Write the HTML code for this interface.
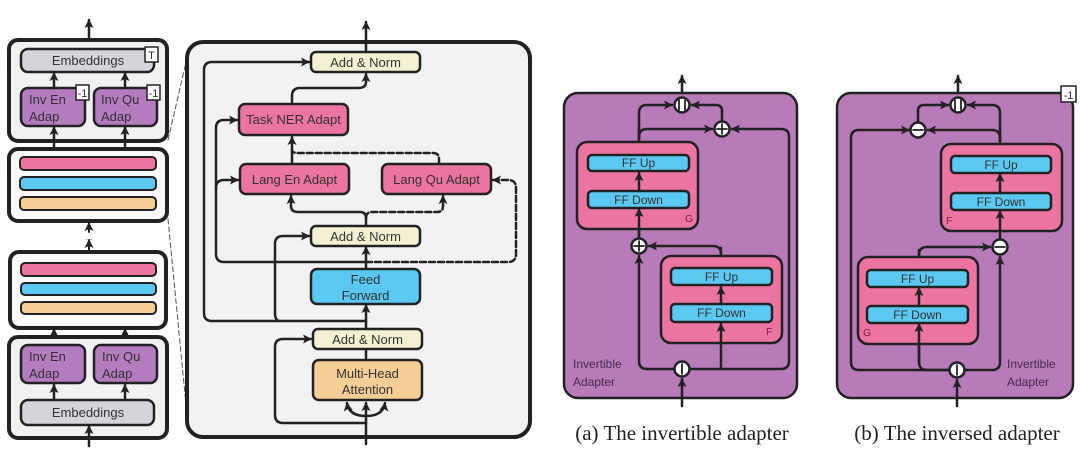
<!DOCTYPE html>
<html><head><meta charset="utf-8"><style>
html,body{margin:0;padding:0;background:#fff;}
svg{display:block;}
text{font-family:"Liberation Sans",sans-serif;fill:#333;}
</style></head><body>
<svg width="1080" height="475" viewBox="0 0 1080 475" xmlns="http://www.w3.org/2000/svg">
<defs>
<marker id="a" markerUnits="userSpaceOnUse" markerWidth="9" markerHeight="9" refX="8" refY="4.5" orient="auto"><path d="M0,0 L9,4.5 L0,9 L2,4.5 z" fill="#222"/></marker>
</defs>
<g stroke="#222" stroke-linejoin="round" stroke-linecap="round">
<!-- LEFT COLUMN -->
<line x1="89" y1="42" x2="89" y2="20" stroke-width="2.5" marker-end="url(#a)"/>
<rect x="9" y="40" width="158" height="101" rx="9" fill="#f0f1f3" stroke-width="4"/>
<rect x="21" y="49" width="133" height="23" rx="7" fill="#d3d5db" stroke-width="2.5"/>
<rect x="145" y="47" width="13" height="15" fill="#fff" stroke-width="1.5"/>
<rect x="21" y="88" width="64" height="38" rx="7" fill="#b47bbf" stroke-width="2.5"/>
<rect x="94" y="88" width="63" height="38" rx="7" fill="#b47bbf" stroke-width="2.5"/>
<rect x="76" y="85" width="13" height="15" fill="#fff" stroke-width="1.5"/>
<rect x="147" y="85" width="13" height="15" fill="#fff" stroke-width="1.5"/>
<line x1="54" y1="88" x2="54" y2="73" stroke-width="2.5" marker-end="url(#a)"/>
<line x1="125" y1="88" x2="125" y2="73" stroke-width="2.5" marker-end="url(#a)"/>
<line x1="54" y1="150" x2="54" y2="127" stroke-width="2.5" marker-end="url(#a)"/>
<line x1="125" y1="150" x2="125" y2="127" stroke-width="2.5" marker-end="url(#a)"/>

<rect x="9" y="149" width="158" height="72" rx="9" fill="#fafafa" stroke-width="4"/>
<rect x="20" y="157" width="136" height="13" rx="4" fill="#ec74a0" stroke-width="2"/>
<rect x="20" y="177" width="136" height="13" rx="4" fill="#5ac8f0" stroke-width="2"/>
<rect x="20" y="197" width="136" height="13" rx="4" fill="#f5cd96" stroke-width="2"/>
<line x1="89" y1="232" x2="89" y2="223" stroke-width="2" marker-end="url(#a)"/>
<text x="89" y="240" font-size="8" text-anchor="middle" stroke="none">...</text>
<line x1="89" y1="252" x2="89" y2="240" stroke-width="2" marker-end="url(#a)"/>

<rect x="10" y="252" width="156" height="76" rx="9" fill="#fafafa" stroke-width="4"/>
<rect x="21" y="263" width="135" height="13" rx="4" fill="#ec74a0" stroke-width="2"/>
<rect x="21" y="283" width="135" height="12" rx="4" fill="#5ac8f0" stroke-width="2"/>
<rect x="21" y="302" width="135" height="12" rx="4" fill="#f5cd96" stroke-width="2"/>
<line x1="54" y1="345" x2="54" y2="329" stroke-width="2.5" marker-end="url(#a)"/>
<line x1="125" y1="345" x2="125" y2="329" stroke-width="2.5" marker-end="url(#a)"/>

<rect x="9" y="337" width="158" height="101" rx="9" fill="#f0f1f3" stroke-width="4"/>
<rect x="21" y="345" width="64" height="38" rx="7" fill="#b47bbf" stroke-width="2.5"/>
<rect x="94" y="345" width="63" height="38" rx="7" fill="#b47bbf" stroke-width="2.5"/>
<rect x="21" y="400" width="133" height="25" rx="7" fill="#d3d5db" stroke-width="2.5"/>
<line x1="54" y1="400" x2="54" y2="385" stroke-width="2.5" marker-end="url(#a)"/>
<line x1="125" y1="400" x2="125" y2="385" stroke-width="2.5" marker-end="url(#a)"/>
<line x1="89" y1="446" x2="89" y2="426" stroke-width="2.5" marker-end="url(#a)"/>

<line x1="168" y1="140" x2="187" y2="58" stroke-width="1" stroke-dasharray="5,3" stroke="#555"/>
<line x1="168" y1="219" x2="187" y2="415" stroke-width="1" stroke-dasharray="5,3" stroke="#555"/>

<!-- BIG BOX -->
<rect x="187" y="42" width="343" height="395" rx="16" fill="#f1f2f4" stroke-width="4"/>
<line x1="366" y1="52" x2="366" y2="22" stroke-width="2.5" marker-end="url(#a)"/>
<line x1="366" y1="444" x2="366" y2="403" stroke-width="2.5" marker-end="url(#a)"/>
<path d="M366,416 Q349,416 347,403" fill="none" stroke-width="2.5" marker-end="url(#a)"/>
<path d="M366,416 Q383,416 385,403" fill="none" stroke-width="2.5" marker-end="url(#a)"/>
<line x1="366" y1="360" x2="366" y2="349" stroke-width="2.5"/>
<line x1="366" y1="329" x2="366" y2="305" stroke-width="2.5" marker-end="url(#a)"/>
<line x1="366" y1="269" x2="366" y2="247" stroke-width="2.5" marker-end="url(#a)"/>
<path d="M366,423 L283,423 Q275,423 275,415 L275,347 Q275,339 283,339 L311,339" fill="none" stroke-width="2.5" marker-end="url(#a)"/>
<path d="M366,321 L212,321 Q204,321 204,313 L204,70 Q204,62 212,62 L309,62" fill="none" stroke-width="2.5" marker-end="url(#a)"/>
<path d="M280,321 Q275,321 275,313 L275,244 Q275,236 283,236 L309,236" fill="none" stroke-width="2.5" marker-end="url(#a)"/>
<path d="M366,262 L224,262 Q216,262 216,254 L216,128 Q216,120 224,120 L237,120" fill="none" stroke-width="2.5" marker-end="url(#a)"/>
<path d="M216,188 Q216,180 224,180 L238,180" fill="none" stroke-width="2.5" marker-end="url(#a)"/>
<path d="M366,226 L366,218 Q366,212 360,212 L298,212 Q291,212 291,206 L291,196" fill="none" stroke-width="2.5" marker-end="url(#a)"/>
<path d="M366,218 Q366,212 372,212 L437,212 Q443,212 443,206 L443,196" fill="none" stroke-width="2.5" stroke-dasharray="6,3" marker-end="url(#a)"/>
<path d="M366,262 L508,262 Q516,262 516,254 L516,188 Q516,180 508,180 L493,180" fill="none" stroke-width="2.5" stroke-dasharray="6,3" marker-end="url(#a)"/>
<path d="M439,164 L439,159 Q439,153 433,153 L298,153 Q292,153 292,150" fill="none" stroke-width="2.5" stroke-dasharray="6,3"/>
<line x1="292" y1="164" x2="292" y2="137" stroke-width="2.5" marker-end="url(#a)"/>
<path d="M292,104 L292,96 Q292,88 300,88 L358,88 Q366,88 366,82 L366,74" fill="none" stroke-width="2.5" marker-end="url(#a)"/>

<rect x="311" y="52" width="109" height="20" rx="5" fill="#f3f1d2" stroke-width="2.5"/>
<rect x="239" y="104" width="109" height="31" rx="6" fill="#ec74a0" stroke-width="2.5"/>
<rect x="240" y="164" width="109" height="30" rx="6" fill="#ec74a0" stroke-width="2.5"/>
<rect x="382" y="164" width="109" height="30" rx="6" fill="#ec74a0" stroke-width="2.5"/>
<rect x="311" y="226" width="109" height="20" rx="5" fill="#f3f1d2" stroke-width="2.5"/>
<rect x="311" y="269" width="109" height="35" rx="6" fill="#5ac8f0" stroke-width="2.5"/>
<rect x="313" y="329" width="109" height="20" rx="5" fill="#f3f1d2" stroke-width="2.5"/>
<rect x="313" y="360" width="109" height="40" rx="6" fill="#f5cd96" stroke-width="2.5"/>

<!-- PANEL A -->
<line x1="682" y1="97" x2="682" y2="76" stroke-width="2.5" marker-end="url(#a)"/>
<rect x="564" y="93" width="233" height="305" rx="14" fill="#b67bb8" stroke-width="2.5"/>
<line x1="682" y1="406" x2="682" y2="379" stroke-width="2.5" marker-end="url(#a)"/>
<path d="M674,369 L647,369 Q639,369 639,361 L639,256" fill="none" stroke-width="2.5" marker-end="url(#a)"/>
<path d="M690,369 L781,369 Q789,369 789,361 L789,137 Q789,129 781,129 L732,129" fill="none" stroke-width="2.5" marker-end="url(#a)"/>
<path d="M721,268 L721,254 Q721,246 713,246 L649,246" fill="none" stroke-width="2.5" marker-end="url(#a)"/>
<line x1="639" y1="238" x2="639" y2="209" stroke-width="2.5" marker-end="url(#a)"/>
<path d="M639,155 L639,113 Q639,105 647,105 L672,105" fill="none" stroke-width="2.5" marker-end="url(#a)"/>
<path d="M639,137 Q639,129 647,129 L712,129" fill="none" stroke-width="2.5" marker-end="url(#a)"/>
<path d="M722,121 L722,111 Q722,105 716,105 L692,105" fill="none" stroke-width="2.5" marker-end="url(#a)"/>
<rect x="577" y="142" width="121" height="87" rx="10" fill="#ec74a0" stroke-width="2.5"/>
<rect x="588" y="155" width="101" height="16" rx="4" fill="#5ac8f0" stroke-width="2.5"/>
<rect x="588" y="191" width="101" height="17" rx="4" fill="#5ac8f0" stroke-width="2.5"/>
<line x1="639" y1="191" x2="639" y2="173" stroke-width="2.5" marker-end="url(#a)"/>
<line x1="639" y1="238" x2="639" y2="209" stroke-width="2.5" marker-end="url(#a)"/>
<rect x="661" y="256" width="121" height="87" rx="10" fill="#ec74a0" stroke-width="2.5"/>
<rect x="671" y="268" width="101" height="17" rx="4" fill="#5ac8f0" stroke-width="2.5"/>
<rect x="671" y="304" width="101" height="18" rx="4" fill="#5ac8f0" stroke-width="2.5"/>
<line x1="721" y1="304" x2="721" y2="287" stroke-width="2.5" marker-end="url(#a)"/>
<line x1="721" y1="369" x2="721" y2="324" stroke-width="2.5" marker-end="url(#a)"/>
<line x1="639" y1="142" x2="639" y2="128" stroke-width="2.5"/>
<line x1="721" y1="256" x2="721" y2="248" stroke-width="2.5"/>
<g fill="#fff" stroke-width="2.5">
<circle cx="682" cy="105" r="7.5"/><circle cx="722" cy="129" r="7.5"/>
<circle cx="639" cy="246" r="7.5"/><circle cx="682" cy="369" r="7.5"/>
</g>
<g stroke-width="1.8">
<line x1="679" y1="100" x2="679" y2="110"/><line x1="685" y1="100" x2="685" y2="110"/>
<line x1="717" y1="129" x2="727" y2="129"/><line x1="722" y1="124" x2="722" y2="134"/>
<line x1="634" y1="246" x2="644" y2="246"/><line x1="639" y1="241" x2="639" y2="251"/>
<line x1="682" y1="364" x2="682" y2="374"/>
</g>

<!-- PANEL B -->
<line x1="958" y1="97" x2="958" y2="76" stroke-width="2.5" marker-end="url(#a)"/>
<rect x="837" y="93" width="236" height="305" rx="14" fill="#b67bb8" stroke-width="2.5"/>
<rect x="1061" y="86" width="15" height="16" fill="#fff" stroke-width="1.5"/>
<line x1="957" y1="406" x2="957" y2="380" stroke-width="2.5" marker-end="url(#a)"/>
<path d="M949,370 L859,370 Q851,370 851,362 L851,138 Q851,130 859,130 L909,130" fill="none" stroke-width="2.5" marker-end="url(#a)"/>
<path d="M949,370 L927,370 Q919,370 919,362 L919,324" fill="none" stroke-width="2.5" marker-end="url(#a)"/>
<path d="M965,370 L992,370 Q1000,370 1000,362 L1000,257" fill="none" stroke-width="2.5" marker-end="url(#a)"/>
<path d="M919,270 L919,255 Q919,247 927,247 L990,247" fill="none" stroke-width="2.5" marker-end="url(#a)"/>
<path d="M1000,156 L1000,113 Q1000,105 992,105 L968,105" fill="none" stroke-width="2.5" marker-end="url(#a)"/>
<path d="M1000,138 Q1000,130 992,130 L928,130" fill="none" stroke-width="2.5" marker-end="url(#a)"/>
<path d="M918,122 L918,111 Q918,105 924,105 L948,105" fill="none" stroke-width="2.5" marker-end="url(#a)"/>
<rect x="941" y="144" width="121" height="87" rx="10" fill="#ec74a0" stroke-width="2.5"/>
<rect x="951" y="156" width="100" height="17" rx="4" fill="#5ac8f0" stroke-width="2.5"/>
<rect x="951" y="193" width="100" height="17" rx="4" fill="#5ac8f0" stroke-width="2.5"/>
<line x1="1000" y1="193" x2="1000" y2="174" stroke-width="2.5" marker-end="url(#a)"/>
<line x1="1000" y1="239" x2="1000" y2="211" stroke-width="2.5" marker-end="url(#a)"/>
<line x1="1000" y1="144" x2="1000" y2="130" stroke-width="2.5"/>
<rect x="858" y="257" width="120" height="87" rx="10" fill="#ec74a0" stroke-width="2.5"/>
<rect x="867" y="270" width="101" height="17" rx="4" fill="#5ac8f0" stroke-width="2.5"/>
<rect x="867" y="306" width="101" height="17" rx="4" fill="#5ac8f0" stroke-width="2.5"/>
<line x1="919" y1="306" x2="919" y2="288" stroke-width="2.5" marker-end="url(#a)"/>
<line x1="919" y1="362" x2="919" y2="324" stroke-width="2.5" marker-end="url(#a)"/>
<line x1="919" y1="257" x2="919" y2="250" stroke-width="2.5"/>
<g fill="#fff" stroke-width="2.5">
<circle cx="958" cy="105" r="7.5"/><circle cx="918" cy="130" r="7.5"/>
<circle cx="1000" cy="247" r="7.5"/><circle cx="957" cy="370" r="7.5"/>
</g>
<g stroke-width="1.8">
<line x1="955" y1="100" x2="955" y2="110"/><line x1="961" y1="100" x2="961" y2="110"/>
<line x1="913" y1="130" x2="923" y2="130"/>
<line x1="995" y1="247" x2="1005" y2="247"/>
<line x1="957" y1="365" x2="957" y2="375"/>
</g>
</g>

<!-- TEXT -->
<g stroke="none" font-size="13">
<text x="88" y="65" text-anchor="middle">Embeddings</text>
<text x="151.5" y="59" text-anchor="middle" font-size="11">T</text>
<text x="82.5" y="97" text-anchor="middle" font-size="11">-1</text>
<text x="153.5" y="97" text-anchor="middle" font-size="11">-1</text>
<text x="29" y="104">Inv En</text><text x="29" y="121">Adap</text>
<text x="101" y="104">Inv Qu</text><text x="101" y="121">Adap</text>
<text x="29" y="361">Inv En</text><text x="29" y="378">Adap</text>
<text x="102" y="361">Inv Qu</text><text x="102" y="378">Adap</text>
<text x="88" y="417" text-anchor="middle">Embeddings</text>

<text x="365.5" y="67" text-anchor="middle">Add &amp; Norm</text>
<text x="293.5" y="124" text-anchor="middle">Task NER Adapt</text>
<text x="294.5" y="184" text-anchor="middle">Lang En Adapt</text>
<text x="436.5" y="184" text-anchor="middle">Lang Qu Adapt</text>
<text x="365.5" y="241" text-anchor="middle">Add &amp; Norm</text>
<text x="365.5" y="284" text-anchor="middle">Feed</text>
<text x="365.5" y="300" text-anchor="middle">Forward</text>
<text x="367.5" y="344" text-anchor="middle">Add &amp; Norm</text>
<text x="367.5" y="378" text-anchor="middle">Multi-Head</text>
<text x="367.5" y="394" text-anchor="middle">Attention</text>

<g font-size="12">
<text x="638.5" y="167" text-anchor="middle">FF Up</text>
<text x="638.5" y="204" text-anchor="middle">FF Down</text>
<text x="721.5" y="281" text-anchor="middle">FF Up</text>
<text x="721.5" y="317" text-anchor="middle">FF Down</text>
<text x="1001" y="169" text-anchor="middle">FF Up</text>
<text x="1001" y="206" text-anchor="middle">FF Down</text>
<text x="917.5" y="283" text-anchor="middle">FF Up</text>
<text x="917.5" y="319" text-anchor="middle">FF Down</text>
<text x="1068.5" y="99" text-anchor="middle" font-size="11">-1</text>
</g>
<g font-size="10.5">
<text x="685" y="222" style="fill:#7a1e48">G</text>
<text x="766" y="335" style="fill:#7a1e48">F</text>
<text x="946" y="224" style="fill:#7a1e48">F</text>
<text x="863" y="336" style="fill:#7a1e48">G</text>
</g>
<g font-size="12">
<text x="573" y="368" style="fill:#4a2a4e">Invertible</text>
<text x="573" y="386" style="fill:#4a2a4e">Adapter</text>
<text x="1007" y="368" style="fill:#4a2a4e">Invertible</text>
<text x="1007" y="386" style="fill:#4a2a4e">Adapter</text>
</g>
<text x="682" y="440" text-anchor="middle" font-size="21" style="font-family:'Liberation Serif',serif;fill:#222">(a) The invertible adapter</text>
<text x="957" y="440" text-anchor="middle" font-size="21" style="font-family:'Liberation Serif',serif;fill:#222">(b) The inversed adapter</text>
</g>
</svg>
</body></html>
